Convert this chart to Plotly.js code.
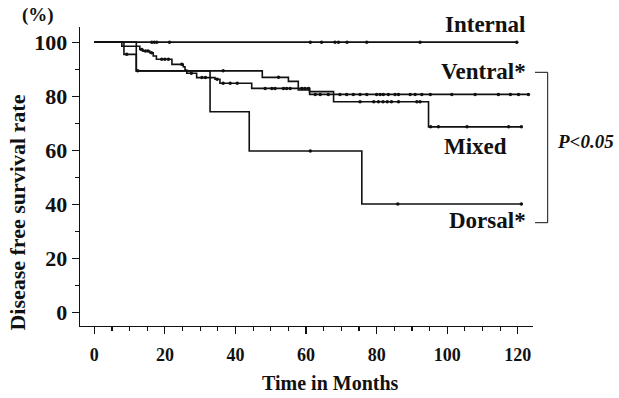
<!DOCTYPE html>
<html>
<head>
<meta charset="utf-8">
<script src="https://cdn.plot.ly/plotly-3.0.1.min.js"></script>
<style>html,body{margin:0;padding:0;background:#fff;}</style>
</head>
<body>
<div id="chart" style="width:619px;height:398px;"></div>
<script>
// ---- Data (months, % disease free) ----
const internalT = [0, 120];
const internalS = [100, 100];
const internalCens = [16.3, 17.0, 17.7, 21.3, 61.2, 64.4, 68.2, 69.2, 71.6, 77.2, 92.3, 119.7];

const ventralT = [0, 7.8, 12.9, 13.8, 15.7, 16.7, 17.6, 22, 25.2, 25.7, 26.2, 29, 34.2, 35.6, 44.6, 61, 123];
const ventralS = [100, 98.5, 97.3, 96.7, 96.1, 94.9, 93.7, 91.8, 90.9, 89.7, 88.5, 86.9, 86.3, 84.8, 82.9, 80.7, 80.7];
const ventralCens = [13.4, 14.5, 15.2, 16.2, 19.1, 20.0, 21.0, 24.8, 27.5, 30.5, 31.5, 34.8, 36.5, 38.5, 40.5,
  48.4, 50.3, 51.2, 53.6, 54.5, 55.5, 58.8, 59.7, 60.7,
  62.6, 64, 66.3, 69.6, 71.5, 73.4, 75.3, 77.2, 80, 81, 81.9, 83.3, 85.2, 86.2, 89.5, 90.9, 92.8, 95.2,
  101.3, 107.9, 114.5, 117.9, 120.2, 123];

const mixedT = [0, 8.4, 11.9, 47.6, 55, 57.8, 61, 67.8, 94.7, 121];
const mixedS = [100, 95.5, 89.4, 87.0, 85.5, 82.3, 81.7, 78.0, 68.7, 68.7];
const mixedCens = [9.2, 36.5, 52.2, 75.3, 79.2, 80.5, 81.8, 83, 84.2, 86.2, 91.4, 92.3, 95.3, 97.5, 105.6, 117.4, 121];

const dorsalT = [0, 11.9, 32.8, 43.9, 75.8, 121];
const dorsalS = [100, 89.4, 74.3, 59.8, 40.2, 40.2];
const dorsalCens = [12.3, 61.2, 86, 121];

const xTicks = [0, 20, 40, 60, 80, 100, 120];
const yTicks = [0, 20, 40, 60, 80, 100];

// ---- Helpers ----
function stepAt(T, S, t) {
  let v = S[0];
  for (let i = 0; i < T.length; i++) { if (T[i] <= t) v = S[i]; }
  return v;
}
const FONT = '"Liberation Serif", "Times New Roman", serif';
const groups = [
  [internalT, internalS, internalCens],
  [ventralT, ventralS, ventralCens],
  [mixedT, mixedS, mixedCens],
  [dorsalT, dorsalS, dorsalCens]
];
const traces = [];
groups.forEach(g => {
  traces.push({x: g[0], y: g[1], mode: 'lines', line: {shape: 'hv', color: '#111', width: 1.6},
    showlegend: false, hoverinfo: 'skip'});
  traces.push({x: g[2], y: g[2].map(t => stepAt(g[0], g[1], t)), mode: 'markers',
    marker: {color: '#111', size: 3.5, symbol: 'circle'}, showlegend: false, hoverinfo: 'skip', cliponaxis: false});
});

const layout = {
  width: 619, height: 398,
  margin: {l: 80, r: 86, t: 27, b: 72},
  paper_bgcolor: '#fff', plot_bgcolor: '#fff',
  showlegend: false,
  xaxis: {
    range: [-4.05, 124.3], tickvals: xTicks, ticktext: xTicks.map(String),
    ticks: 'outside', ticklen: 7, tickwidth: 1.2, tickcolor: '#111', ticklabelstandoff: 5,
    minor: {dtick: 5, tick0: 0, ticks: 'outside', ticklen: 4, tickwidth: 1.2, tickcolor: '#111'},
    showline: true, linecolor: '#111', linewidth: 1.3, showgrid: false, zeroline: false,
    tickfont: {family: FONT, size: 18, color: '#111', weight: 'bold'}
  },
  yaxis: {
    range: [-4.9, 105.6], tickvals: yTicks, ticktext: yTicks.map(String),
    ticks: 'outside', ticklen: 7, tickwidth: 1.2, tickcolor: '#111',
    minor: {dtick: 10, tick0: 0, ticks: 'outside', ticklen: 4, tickwidth: 1.2, tickcolor: '#111'},
    showline: true, linecolor: '#111', linewidth: 1.3, showgrid: false, zeroline: false,
    tickfont: {family: FONT, size: 22, color: '#111', weight: 'bold'}
  },
  annotations: [
    {text: 'Disease free survival rate', xref: 'paper', yref: 'paper', x: -0.137, y: 0.379,
      xanchor: 'center', yanchor: 'middle', textangle: -90, showarrow: false,
      font: {family: FONT, size: 22, color: '#111', weight: 'bold'}},
    {text: 'Time in Months', xref: 'paper', yref: 'paper', x: 0.552, y: -0.19,
      xanchor: 'center', yanchor: 'middle', showarrow: false,
      font: {family: FONT, size: 20, color: '#111', weight: 'bold'}},
    {text: '(%)', xref: 'paper', yref: 'paper', x: -0.092, y: 1.04,
      xanchor: 'center', yanchor: 'middle', showarrow: false,
      font: {family: FONT, size: 19, color: '#111', weight: 'bold'}},
    {text: 'Internal', xref: 'paper', yref: 'paper', x: 0.989, y: 1.010,
      xanchor: 'right', yanchor: 'middle', showarrow: false,
      font: {family: FONT, size: 23, color: '#111', weight: 'bold'}},
    {text: 'Ventral*', xref: 'paper', yref: 'paper', x: 0.989, y: 0.8495,
      xanchor: 'right', yanchor: 'middle', showarrow: false,
      font: {family: FONT, size: 23, color: '#111', weight: 'bold'}},
    {text: 'Mixed', xref: 'paper', yref: 'paper', x: 0.874, y: 0.5987,
      xanchor: 'center', yanchor: 'middle', showarrow: false,
      font: {family: FONT, size: 23, color: '#111', weight: 'bold'}},
    {text: 'Dorsal*', xref: 'paper', yref: 'paper', x: 0.989, y: 0.3545,
      xanchor: 'right', yanchor: 'middle', showarrow: false,
      font: {family: FONT, size: 23, color: '#111', weight: 'bold'}},
    {text: '<i>P&lt;0.05</i>', xref: 'paper', yref: 'paper', x: 1.0486, y: 0.6154,
      xanchor: 'left', yanchor: 'middle', showarrow: false,
      font: {family: FONT, size: 19, color: '#111', weight: 'bold'}}
  ],
  shapes: [
    {type: 'path', xref: 'paper', yref: 'paper', layer: 'above',
      path: 'M 1.0044 0.8485 H 1.0324 V 0.3455 H 1.0044',
      line: {color: '#111', width: 1}}
  ]
};

Plotly.newPlot('chart', traces, layout, {staticPlot: true, displayModeBar: false});
</script>
</body>
</html>
